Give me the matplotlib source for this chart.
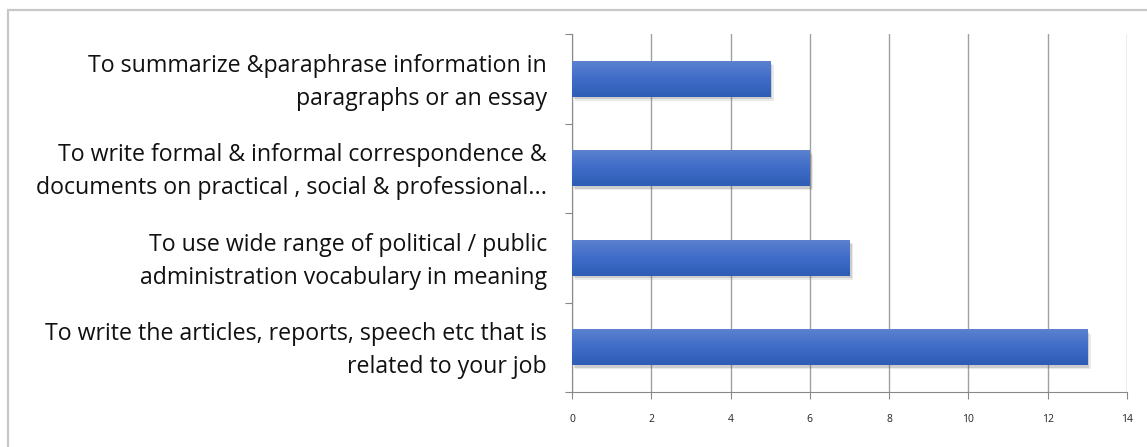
import matplotlib.pyplot as plt
import matplotlib.patheffects as pe
import matplotlib.transforms as mtransforms
from matplotlib.patches import Rectangle
from matplotlib.colors import LinearSegmentedColormap
import numpy as np

categories = [
    "To summarize &paraphrase information in\nparagraphs or an essay",
    "To write formal & informal correspondence &\ndocuments on practical , social & professional...",
    "To use wide range of political / public\nadministration vocabulary in meaning",
    "To write the articles, reports, speech etc that is\nrelated to your job",
]
values = [5, 6, 7, 13]
x_ticks = [0, 2, 4, 6, 8, 10, 12, 14]

plt.rcParams['font.family'] = ['Open Sans', 'DejaVu Sans']

fig = plt.figure(figsize=(11.47, 4.47), dpi=100)
fig.patch.set_facecolor('white')

# outer frame (partly cut off at right and bottom)
fig.add_artist(Rectangle((8 / 1147, -0.2), 1.2, (447 - 10) / 447 + 0.2,
                         transform=fig.transFigure, fill=False,
                         edgecolor='#c8c8c8', linewidth=1.6))

ax = fig.add_axes([572 / 1147, 55 / 447, 555 / 1147, 358 / 447])

ypos = np.arange(len(categories))
bars = ax.barh(ypos, values, height=0.4, color='#3e6bc6', zorder=3)

# gradient fill + soft shadow for each bar
grad = np.linspace(0, 1, 64).reshape(-1, 1)
cmap = LinearSegmentedColormap.from_list('bar', ['#5b81cf', '#3f6cc8', '#2e5db5'])
for b in bars:
    b.set_path_effects([
        pe.SimplePatchShadow(offset=(2.5, -3), shadow_rgbFace='#777777', alpha=0.15),
        pe.SimplePatchShadow(offset=(1.5, -2), shadow_rgbFace='#555555', alpha=0.2),
        pe.Normal()])
    x0, y0 = b.get_x(), b.get_y()
    w, h = b.get_width(), b.get_height()
    im = ax.imshow(grad, cmap=cmap, aspect='auto', extent=(x0, x0 + w, y0 + h, y0),
                   origin='upper', zorder=4)
    im.set_clip_path(b)

ax.set_xlim(0, 14)
ax.set_ylim(len(categories) - 0.5, -0.5)

ax.set_xticks(x_ticks)
ax.set_xticklabels([str(t) for t in x_ticks], fontsize=7.5, color='#222222')
ax.xaxis.grid(True, color='#a0a0a0', linewidth=1.0, zorder=0)

ax.set_yticks(np.arange(len(categories) + 1) - 0.5)
ax.set_yticklabels([])
ax.set_yticks(ypos, minor=True)
ax.set_yticklabels(categories, minor=True, fontsize=16.7, color='#111111',
                   ha='right', multialignment='right', linespacing=1.5)
ax.tick_params(axis='y', which='minor', length=0, pad=18)
ax.tick_params(axis='y', which='major', length=5, color='#888888')
ax.tick_params(axis='x', length=5, color='#888888', pad=11)

# nudge the category labels up a little
shift = mtransforms.ScaledTranslation(0, 4 / 100, fig.dpi_scale_trans)
for lbl in ax.get_yticklabels(minor=True):
    lbl.set_transform(lbl.get_transform() + shift)

for side in ['top', 'right']:
    ax.spines[side].set_visible(False)
for side in ['left', 'bottom']:
    ax.spines[side].set_color('#888888')

fig.savefig('out.png', dpi=100)
